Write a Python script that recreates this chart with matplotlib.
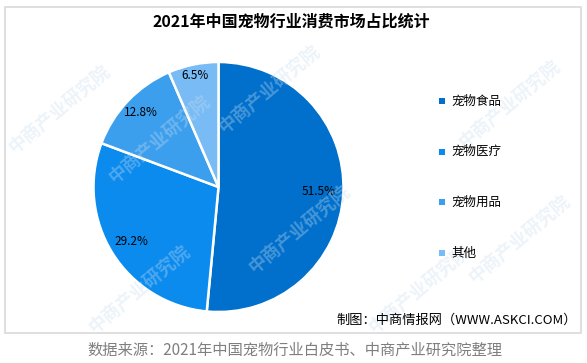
import matplotlib
matplotlib.use("Agg")
import matplotlib.pyplot as plt
from matplotlib.patches import Rectangle
import numpy as np

plt.rcParams['font.family'] = ['Noto Sans CJK SC', 'DejaVu Sans']

title = "2021年中国宠物行业消费市场占比统计"
categories = ["宠物食品", "宠物医疗", "宠物用品", "其他"]
values = [51.5, 29.2, 12.8, 6.5]
colors = ["#0070CC", "#0B8BEE", "#3C9FEE", "#78BBF5"]
label_dist = [0.80, 0.82, 0.86, 0.91]
credit = "制图：中商情报网（WWW.ASKCI.COM）"
source = "数据来源：2021年中国宠物行业白皮书、中商产业研究院整理"
watermark = "中商产业研究院"

W, H = 587, 363
fig = plt.figure(figsize=(W / 100, H / 100), dpi=100)
fig.patch.set_facecolor("white")

# border box
fig.patches.append(Rectangle((5 / W, (H - 333) / H), 576 / W, 326 / H,
                             transform=fig.transFigure, fill=False,
                             edgecolor="#D9D9D9", linewidth=1.2))

# watermarks
for (x, y) in [(60, 110), (160, 140), (270, 90), (510, 105), (520, 240), (140, 290), (420, 290), (300, 230)]:
    fig.text(x / W, 1 - y / H, watermark, fontsize=13, color="#C9DDEE", alpha=0.35,
             rotation=40, ha="center", va="center", fontweight="bold")

cx, cy, r = 218.5, 187, 125
ax = fig.add_axes([(cx - r) / W, (H - cy - r) / H, 2 * r / W, 2 * r / H])
wedges, texts, autotexts = ax.pie(values, colors=colors, startangle=90, counterclock=False,
                                  autopct=lambda p: f"{p:.1f}%", pctdistance=0.8,
                                  wedgeprops=dict(edgecolor="white", linewidth=1.8),
                                  textprops=dict(fontsize=8.5, color="black"))
for w, t, d in zip(wedges, autotexts, label_dist):
    ang = np.deg2rad((w.theta1 + w.theta2) / 2)
    t.set_position((d * np.cos(ang), d * np.sin(ang)))
ax.set_xlim(-1, 1)
ax.set_ylim(-1, 1)
ax.set_aspect("equal")
ax.axis("off")

fig.text(291 / W, 1 - 22 / H, title, fontsize=11.5, fontweight="bold", ha="center", va="center")

# legend
for i in range(len(categories)):
    y = 101 + i * 50.7
    fig.patches.append(Rectangle((439 / W, 1 - (y + 3) / H), 6 / W, 6 / H,
                                 transform=fig.transFigure, facecolor=colors[i], edgecolor="none"))
    fig.text(451 / W, 1 - y / H, categories[i], fontsize=9, ha="left", va="center")

fig.text(577 / W, 1 - 320 / H, credit, fontsize=9.5, ha="right", va="center")
fig.text(295 / W, 1 - 350 / H, source, fontsize=11, color="#7F7F7F", ha="center", va="center")

fig.savefig("out.png", dpi=100)
